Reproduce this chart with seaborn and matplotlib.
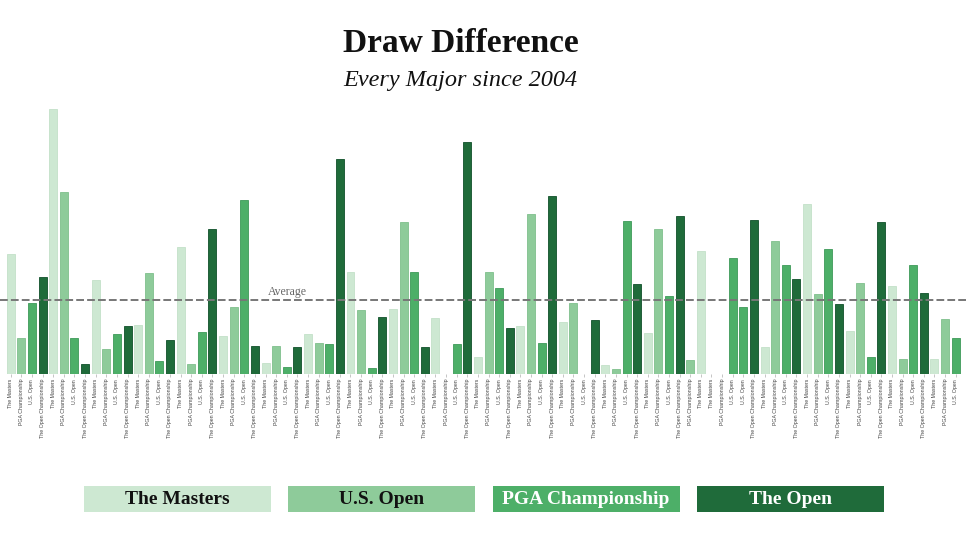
import numpy as np
import pandas as pd
import matplotlib
matplotlib.use('Agg')
import matplotlib.pyplot as plt
from matplotlib.patches import Rectangle
import seaborn as sns

# Event label for each bar, left to right
events = (
    ['The Masters', 'PGA Championship', 'U.S. Open', 'The Open Championship'] * 16
    + ['PGA Championship', 'The Masters', 'The Masters', 'PGA Championship',
       'U.S. Open', 'U.S. Open', 'The Open Championship']
    + ['The Masters', 'PGA Championship', 'U.S. Open', 'The Open Championship'] * 4
    + ['The Masters', 'PGA Championship', 'U.S. Open']
)

# Draw difference per major
diff = [
    12.0, 3.6, 7.1, 9.7, 26.5, 18.2, 3.6, 1.0, 9.4, 2.5,
    4.0, 4.8, 4.9, 10.1, 1.3, 3.4, 12.7, 1.0, 4.2, 14.5,
    3.8, 6.7, 17.4, 2.8, 1.1, 2.8, 0.7, 2.7, 4.0, 3.1,
    3.0, 21.5, 10.2, 6.4, 0.6, 5.7, 6.5, 15.2, 10.2, 2.7,
    5.6, 0.05, 3.0, 23.2, 1.7, 10.2, 8.6, 4.6, 4.8, 16.0,
    3.1, 17.8, 5.2, 7.1, 0.05, 5.4, 0.9, 0.5, 15.3, 9.0,
    4.1, 14.5, 7.8, 15.8, 1.4, 12.3, 0.03, 0.0, 11.6, 6.7,
    15.4, 2.7, 13.3, 10.9, 9.5, 17.0, 8.0, 12.5, 7.0, 4.3,
    9.1, 1.7, 15.2, 8.8, 1.5, 10.9, 8.1, 1.5, 5.5, 3.6,
]

# Legend names and colours (as shown in the key)
legend_names = ['The Masters', 'U.S. Open', 'PGA Championship', 'The Open']
legend_colors = ['#cde8d2', '#8ecb9a', '#4daf68', '#1f6b3a']
legend_text = ['#111111', '#111111', '#ffffff', '#ffffff']

# colour used for each bar's event label
bar_palette = {
    'The Masters': '#cde8d2',
    'PGA Championship': '#8ecb9a',
    'U.S. Open': '#4daf68',
    'The Open Championship': '#1f6b3a',
}
edge_palette = {
    '#cde8d2': '#c3e0c8',
    '#8ecb9a': '#7fbf8c',
    '#4daf68': '#3e9a59',
    '#1f6b3a': '#10502a',
}

df = pd.DataFrame({'pos': range(len(diff)), 'event': events, 'diff': diff})

fig = plt.figure(figsize=(9.66, 5.44), dpi=100)
ax = fig.add_axes([0, 374 / 544 * 0 + (544 - 374) / 544, 1, 274 / 544])

sns.barplot(data=df, x='pos', y='diff', hue='event', palette=bar_palette,
            dodge=False, legend=False, width=0.75, saturation=1, ax=ax)

for patch in ax.patches:
    fc = matplotlib.colors.to_hex(patch.get_facecolor())
    patch.set_edgecolor(edge_palette.get(fc, fc))
    patch.set_linewidth(0.6)

ax.set_xlim(-1.01, 89.97)
ax.set_ylim(0, 27.4)
for s in ax.spines.values():
    s.set_visible(False)
ax.set_yticks([])
ax.set_xlabel('')
ax.set_ylabel('')
ax.set_xticks(range(len(events)))
ax.set_xticklabels(events, rotation=90, fontsize=3.8, color='#444444',
                   family='Liberation Sans')
ax.tick_params(axis='x', length=2, width=0.4, color='#999999', pad=1.5)
ax.axhline(0, color='#aaaaaa', lw=0.6, zorder=4)

avg = np.mean(diff)
ax.axhline(avg, color='#777777', lw=1.4, ls=(0, (4, 1.6)), zorder=5)
ax.text(26.1, avg + 0.25, 'Average', ha='center', va='bottom', fontsize=8.5,
        color='#666666', family='Liberation Serif', zorder=6)

fig.text(0.477, 1 - 51.7 / 544, 'Draw Difference', ha='center', va='baseline',
         fontsize=24, fontweight='bold', family='Liberation Serif', color='#111111')
fig.text(0.477, 1 - 85.7 / 544, 'Every Major since 2004', ha='center', va='baseline',
         fontsize=17.5, style='italic', family='Liberation Serif', color='#111111')

# key boxes at the bottom
for i, (name, col, tcol) in enumerate(zip(legend_names, legend_colors, legend_text)):
    x0 = (84 + i * 204.3) / 966
    w = 187 / 966
    y0 = (544 - 512) / 544
    h = 26 / 544
    fig.patches.append(Rectangle((x0, y0), w, h, transform=fig.transFigure,
                                 facecolor=col, edgecolor='none'))
    fig.text(x0 + w / 2, y0 + h / 2, name, ha='center', va='center',
             fontsize=14, fontweight='bold', family='Liberation Serif', color=tcol)

fig.savefig('out.png', dpi=100, facecolor='white')
